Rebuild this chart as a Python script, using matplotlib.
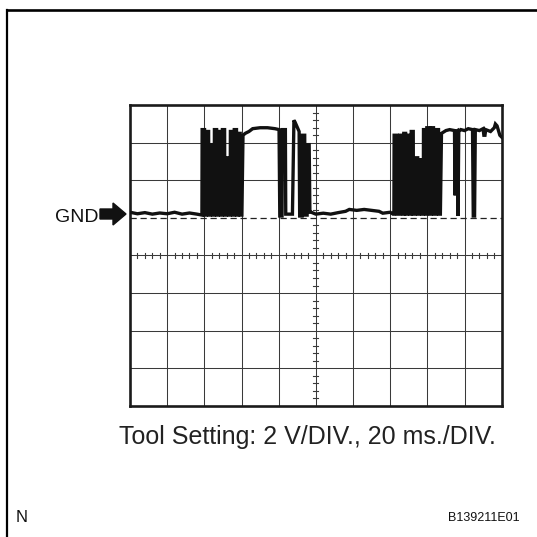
import matplotlib
matplotlib.use("Agg")
import matplotlib.pyplot as plt
from matplotlib.lines import Line2D
from matplotlib.patches import Polygon

plt.rcParams['font.family'] = ['Liberation Sans', 'DejaVu Sans']

# ---------------- data (time in ms, voltage in V) ----------------
base1_t = [0, 4, 8, 12, 16, 20, 24, 28, 32, 36, 38.5]
base1_v = [0.3, 0.22, 0.28, 0.2, 0.26, 0.22, 0.3, 0.2, 0.26, 0.2, 0.15]

burst1_start = [38.7, 41.0, 43.2, 45.3, 47.4, 49.6, 51.8, 53.9, 56.0, 58.1]
burst1_end   = [40.1, 42.3, 44.5, 46.6, 48.8, 50.9, 53.0, 55.2, 57.3, 59.3]
burst1_high  = [4.7, 4.6, 3.9, 4.7, 4.6, 4.7, 3.2, 4.6, 4.7, 4.5]
burst1_low = 0.15

plat1_t = [60.2, 60.8, 62, 64, 66, 70, 74, 78, 80.2]
plat1_v = [0.15, 4.4, 4.5, 4.6, 4.75, 4.8, 4.8, 4.75, 4.7]

mid_t = [80.6, 81.8, 82.0, 83.6, 83.8, 87.4, 88.2, 88.8, 91.0, 91.3, 92.6, 92.8,
         94.0, 94.2, 95.3, 95.5, 96.4, 96.8]
mid_v = [0.1, 0.1, 4.7, 4.7, 0.2, 0.2, 5.2, 5.1, 4.6, 0.1, 0.1, 4.4,
         4.4, 0.15, 0.15, 3.9, 3.9, 0.3]

base2_t = [97.5, 100, 104, 108, 112, 116, 118, 122, 126, 130, 134, 136, 140, 141.5]
base2_v = [0.3, 0.2, 0.25, 0.2, 0.28, 0.35, 0.45, 0.4, 0.45, 0.4, 0.35, 0.25, 0.3, 0.2]

burst2_start = [142.0, 145.0, 147.2, 149.2, 151.2, 153.3, 155.6, 157.8, 159.6, 162.0, 164.8]
burst2_end   = [143.6, 146.6, 148.3, 150.5, 152.4, 154.8, 157.0, 159.0, 161.2, 163.3, 166.0]
burst2_high  = [4.4, 4.4, 4.5, 4.4, 4.6, 3.2, 3.1, 4.7, 4.8, 4.8, 4.7]
burst2_low = 0.2

plat2_t = [167.0, 167.6, 170, 172, 174.6, 174.9, 175.3, 176.2, 176.5, 176.9, 178, 180,
           182, 184.3, 184.7, 185.4, 185.8, 188, 190, 190.4, 191, 191.4, 194, 196,
           196.6, 197.5, 199, 200]
plat2_v = [0.2, 4.5, 4.65, 4.7, 4.65, 1.2, 4.6, 4.65, 0.1, 4.6, 4.7, 4.65,
           4.75, 4.7, 0.1, 0.1, 4.7, 4.65, 4.75, 4.4, 4.4, 4.7, 4.6, 4.8,
           5.0, 4.9, 4.4, 4.3]

t_range = (0, 200)        # 20 ms / div, 10 div
v_range = (-10, 6)        # 2 V / div, 8 div


def pulses(starts, ends, highs, low):
    tt, vv = [], []
    for s, e, h in zip(starts, ends, highs):
        tt += [s, s + 0.12, e, e + 0.12]
        vv += [low, h, h, low]
    return tt, vv


b1_t, b1_v = pulses(burst1_start, burst1_end, burst1_high, burst1_low)
b2_t, b2_v = pulses(burst2_start, burst2_end, burst2_high, burst2_low)
trace_t = base1_t + b1_t + plat1_t + mid_t + base2_t + b2_t + plat2_t
trace_v = base1_v + b1_v + plat1_v + mid_v + base2_v + b2_v + plat2_v

# ---------------- figure ----------------
W = H = 537
fig = plt.figure(figsize=(W / 100, H / 100), dpi=100)

# page frame (top and left edge)
fig.add_artist(Line2D([7 / W, 1], [1 - 9.5 / H, 1 - 9.5 / H], color='black', lw=1.9))
fig.add_artist(Line2D([7 / W, 7 / W], [0, 1 - 9.5 / H], color='black', lw=1.6))

left, right, top, bottom = 130 / W, 501.7 / W, 105.2 / H, 405.7 / H
ax = fig.add_axes([left, 1 - bottom, right - left, bottom - top])
ax.set_xlim(*t_range)
ax.set_ylim(*v_range)
ax.set_xticks([])
ax.set_yticks([])
for sp in ax.spines.values():
    sp.set_linewidth(1.9)
    sp.set_color('#1a1a1a')

grid_c = '#3a3a3a'
for x in range(20, 200, 20):
    ax.axvline(x, color=grid_c, lw=0.75, zorder=1)
for y in (-8, -6, -4, -2, 2, 4):
    ax.axhline(y, color=grid_c, lw=0.75, zorder=1)
# ground reference (dashed)
ax.axhline(0, color='#222222', lw=0.9, ls=(0, (5, 3)), zorder=1)

# minor ticks on centre lines
for i in range(50):
    x = i * 4
    if x % 20:
        ax.plot([x, x], [-2.13, -1.87], color=grid_c, lw=0.8, zorder=1)
for i in range(40):
    y = -10 + i * 0.4
    if abs(y - round(y / 2) * 2) > 1e-6:
        ax.plot([98.6, 101.4], [y, y], color=grid_c, lw=0.8, zorder=1)

ax.plot(trace_t, trace_v, color='#111111', lw=2.4, solid_joinstyle='miter', zorder=3)

# GND label with block arrow
fig.text(98 / W, 1 - 217 / H, 'GND', ha='right', va='center', fontsize=14, color='#111111')
arrow_px = [(100, 209), (113, 209), (113, 203), (126, 214), (113, 225), (113, 219), (100, 219)]
arrow = Polygon([(x / W, 1 - y / H) for x, y in arrow_px], closed=True,
                transform=fig.transFigure, color='#111111')
fig.add_artist(arrow)

fig.text(307.5 / W, 1 - 437 / H, 'Tool Setting: 2 V/DIV., 20 ms./DIV.',
         ha='center', va='center', fontsize=18, color='#222222')
fig.text(16 / W, 1 - 518 / H, 'N', ha='left', va='center', fontsize=12, color='#111111')
fig.text(520 / W, 1 - 518 / H, 'B139211E01', ha='right', va='center', fontsize=9, color='#111111')

fig.savefig('out.png', dpi=100)
